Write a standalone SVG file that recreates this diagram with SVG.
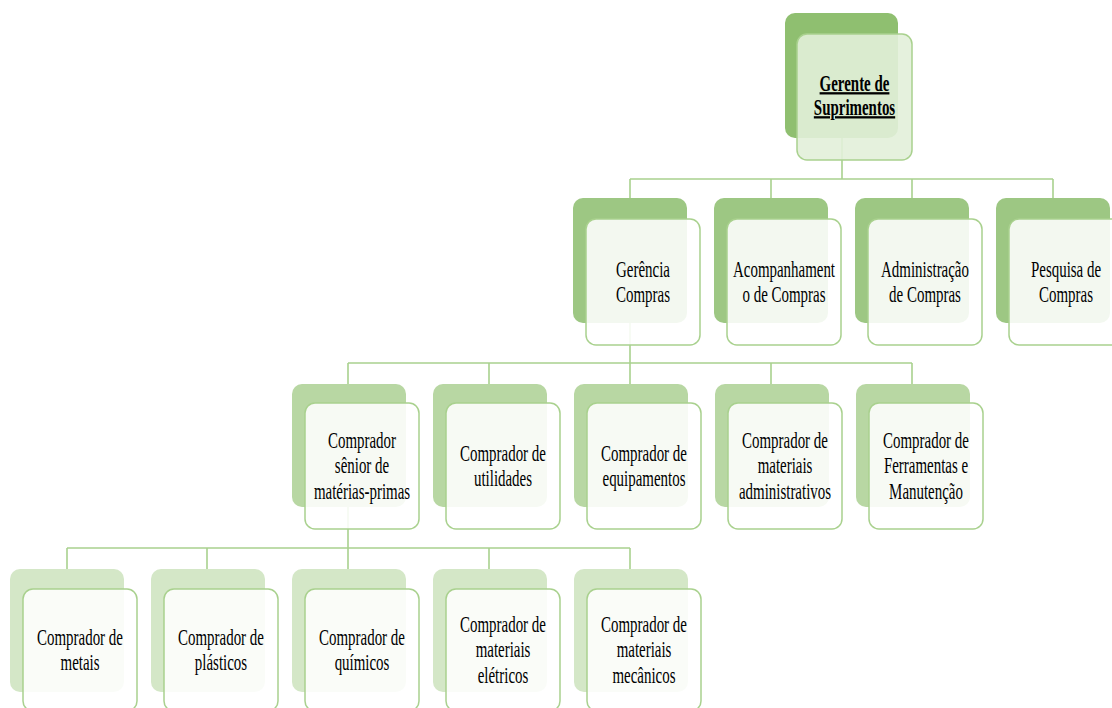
<svg xmlns="http://www.w3.org/2000/svg" width="1112" height="708" viewBox="0 0 1112 708">
  <style>
    .conn { fill: none; stroke: #a9d18e; stroke-width: 1.6; }
    .back1 { fill: #8fbf70; }
    .back2 { fill: #9dc783; }
    .back3 { fill: #b8d7a3; }
    .back4 { fill: #d4e7c7; }
    .front { fill: #ffffff; fill-opacity: 0.88; stroke: #a9d18e; stroke-width: 1.5; }
    .front1 { fill: #e2efd9; fill-opacity: 0.9; stroke: #a9d18e; stroke-width: 1.5; }
    .lbl { font-family: "Liberation Serif", "Times New Roman", serif; font-size: 23px; fill: #000; text-anchor: middle; }
    .top { font-weight: bold; text-decoration: underline; }
  </style>
  <rect width="1112" height="708" fill="#ffffff"/>

  <!-- connectors -->
  <g id="connectors">
    <path class="conn" d="M842 138 V179 M630 179 H1053 M630 179 V198 M771 179 V198 M912 179 V198 M1053 179 V198"/>
    <path class="conn" d="M630 323 V363 M348 363 H912 M348 363 V384 M489 363 V384 M630 363 V384 M771 363 V384 M912 363 V384"/>
    <path class="conn" d="M348 507 V548 M67 548 H630 M67 548 V569 M207 548 V569 M348 548 V569 M489 548 V569 M630 548 V569"/>
  </g>

  <!-- level 1 -->
  <g id="gerente-suprimentos">
    <rect class="back1" x="785" y="13" width="113" height="125" rx="10"/>
    <rect class="front1" x="797" y="34" width="115" height="126" rx="10"/>
    <text class="lbl top" transform="translate(854.5 0) scale(0.65 1)"><tspan x="0" y="91">Gerente de</tspan><tspan x="0" y="115">Suprimentos</tspan></text>
  </g>

  <!-- level 2 -->
  <g id="gerencia-compras">
    <rect class="back2" x="573" y="198" width="114" height="125" rx="10"/>
    <rect class="front" x="586" y="219" width="114" height="126" rx="10"/>
    <text class="lbl" transform="translate(643 0) scale(0.65 1)"><tspan x="0" y="276.75">Gerência</tspan><tspan x="0" y="302.25">Compras</tspan></text>
  </g>
  <g id="acompanhamento-compras">
    <rect class="back2" x="714" y="198" width="114" height="125" rx="10"/>
    <rect class="front" x="727" y="219" width="114" height="126" rx="10"/>
    <text class="lbl" transform="translate(784 0) scale(0.65 1)"><tspan x="0" y="276.75">Acompanhament</tspan><tspan x="0" y="302.25">o de Compras</tspan></text>
  </g>
  <g id="administracao-compras">
    <rect class="back2" x="855" y="198" width="114" height="125" rx="10"/>
    <rect class="front" x="868" y="219" width="114" height="126" rx="10"/>
    <text class="lbl" transform="translate(925 0) scale(0.65 1)"><tspan x="0" y="276.75">Administração</tspan><tspan x="0" y="302.25">de Compras</tspan></text>
  </g>
  <g id="pesquisa-compras">
    <rect class="back2" x="996" y="198" width="114" height="125" rx="10"/>
    <rect class="front" x="1009" y="219" width="114" height="126" rx="10"/>
    <text class="lbl" transform="translate(1066 0) scale(0.65 1)"><tspan x="0" y="276.75">Pesquisa de</tspan><tspan x="0" y="302.25">Compras</tspan></text>
  </g>

  <!-- level 3 -->
  <g id="comprador-senior">
    <rect class="back3" x="292" y="384" width="114" height="123" rx="10"/>
    <rect class="front" x="305" y="403" width="114" height="126" rx="10"/>
    <text class="lbl" transform="translate(362 0) scale(0.65 1)"><tspan x="0" y="448">Comprador</tspan><tspan x="0" y="473.5">sênior de</tspan><tspan x="0" y="499">matérias-primas</tspan></text>
  </g>
  <g id="comprador-utilidades">
    <rect class="back3" x="433" y="384" width="114" height="123" rx="10"/>
    <rect class="front" x="446" y="403" width="114" height="126" rx="10"/>
    <text class="lbl" transform="translate(503 0) scale(0.65 1)"><tspan x="0" y="460.75">Comprador de</tspan><tspan x="0" y="486.25">utilidades</tspan></text>
  </g>
  <g id="comprador-equipamentos">
    <rect class="back3" x="574" y="384" width="114" height="123" rx="10"/>
    <rect class="front" x="587" y="403" width="114" height="126" rx="10"/>
    <text class="lbl" transform="translate(644 0) scale(0.65 1)"><tspan x="0" y="460.75">Comprador de</tspan><tspan x="0" y="486.25">equipamentos</tspan></text>
  </g>
  <g id="comprador-administrativos">
    <rect class="back3" x="715" y="384" width="114" height="123" rx="10"/>
    <rect class="front" x="728" y="403" width="114" height="126" rx="10"/>
    <text class="lbl" transform="translate(785 0) scale(0.65 1)"><tspan x="0" y="448">Comprador de</tspan><tspan x="0" y="473.5">materiais</tspan><tspan x="0" y="499">administrativos</tspan></text>
  </g>
  <g id="comprador-ferramentas">
    <rect class="back3" x="856" y="384" width="114" height="123" rx="10"/>
    <rect class="front" x="869" y="403" width="114" height="126" rx="10"/>
    <text class="lbl" transform="translate(926 0) scale(0.65 1)"><tspan x="0" y="448">Comprador de</tspan><tspan x="0" y="473.5">Ferramentas e</tspan><tspan x="0" y="499">Manutenção</tspan></text>
  </g>

  <!-- level 4 -->
  <g id="comprador-metais">
    <rect class="back4" x="10" y="569" width="114" height="123" rx="10"/>
    <rect class="front" x="23" y="589" width="114" height="122" rx="10"/>
    <text class="lbl" transform="translate(80 0) scale(0.65 1)"><tspan x="0" y="644.75">Comprador de</tspan><tspan x="0" y="670.25">metais</tspan></text>
  </g>
  <g id="comprador-plasticos">
    <rect class="back4" x="151" y="569" width="114" height="123" rx="10"/>
    <rect class="front" x="164" y="589" width="114" height="122" rx="10"/>
    <text class="lbl" transform="translate(221 0) scale(0.65 1)"><tspan x="0" y="644.75">Comprador de</tspan><tspan x="0" y="670.25">plásticos</tspan></text>
  </g>
  <g id="comprador-quimicos">
    <rect class="back4" x="292" y="569" width="114" height="123" rx="10"/>
    <rect class="front" x="305" y="589" width="114" height="122" rx="10"/>
    <text class="lbl" transform="translate(362 0) scale(0.65 1)"><tspan x="0" y="644.75">Comprador de</tspan><tspan x="0" y="670.25">químicos</tspan></text>
  </g>
  <g id="comprador-eletricos">
    <rect class="back4" x="433" y="569" width="114" height="123" rx="10"/>
    <rect class="front" x="446" y="589" width="114" height="122" rx="10"/>
    <text class="lbl" transform="translate(503 0) scale(0.65 1)"><tspan x="0" y="632">Comprador de</tspan><tspan x="0" y="657.5">materiais</tspan><tspan x="0" y="683">elétricos</tspan></text>
  </g>
  <g id="comprador-mecanicos">
    <rect class="back4" x="574" y="569" width="114" height="123" rx="10"/>
    <rect class="front" x="587" y="589" width="114" height="122" rx="10"/>
    <text class="lbl" transform="translate(644 0) scale(0.65 1)"><tspan x="0" y="632">Comprador de</tspan><tspan x="0" y="657.5">materiais</tspan><tspan x="0" y="683">mecânicos</tspan></text>
  </g>
</svg>
